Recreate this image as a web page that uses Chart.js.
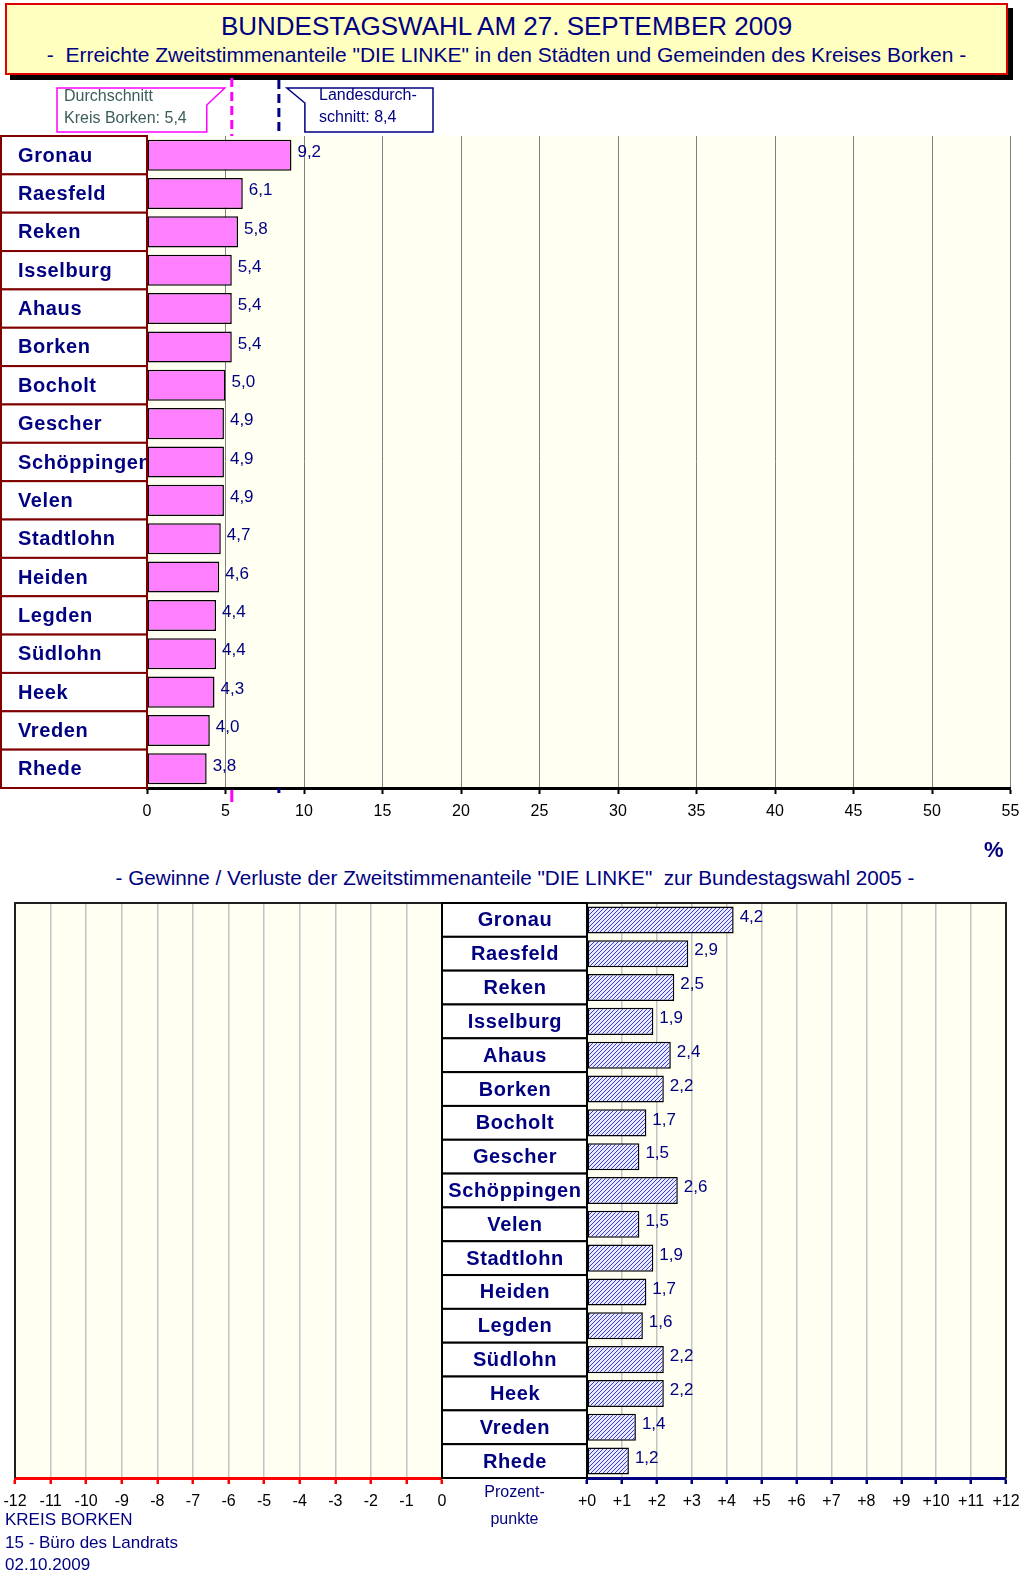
<!DOCTYPE html>
<html>
<head>
<meta charset="utf-8">
<script src="https://cdn.jsdelivr.net/npm/chart.js@4.4.0/dist/chart.umd.min.js"></script>
<style>
  body { margin: 0; background: #fff; width: 1024px; height: 1580px; position: relative; overflow: hidden;
         font-family: Arial, "Liberation Sans", sans-serif; }
  canvas { position: absolute; left: 0; }
  .txt { position: absolute; white-space: nowrap; color: #000080; }
  #titelbox { position: absolute; left: 5px; top: 3px; width: 1003px; height: 72px; box-sizing: border-box;
              background: #ffffc0; border: 2px solid #e00000; box-shadow: 5px 5px 0 #000; }
</style>
</head>
<body>
<div id="titelbox"></div>
<div class="txt" style="left:5px;width:1003px;top:10px;font-size:26px;line-height:32px;text-align:center;">BUNDESTAGSWAHL AM 27. SEPTEMBER 2009</div>
<div class="txt" style="left:5px;width:1003px;top:42px;font-size:21px;line-height:26px;text-align:center;">-&nbsp; Erreichte Zweitstimmenanteile "DIE LINKE" in den Städten und Gemeinden des Kreises Borken -</div>

<canvas id="oben" width="1024" height="860" style="top:0"></canvas>

<div class="txt" style="left:984px;top:837px;font-size:22px;font-weight:bold;line-height:26px;">%</div>
<div class="txt" style="left:15px;width:1000px;top:865px;font-size:20.7px;line-height:26px;text-align:center;">- Gewinne / Verluste der Zweitstimmenanteile "DIE LINKE"&nbsp; zur Bundestagswahl 2005 -</div>

<canvas id="links" width="1024" height="700" style="top:880px"></canvas>
<canvas id="rechts" width="1024" height="700" style="top:880px"></canvas>

<div class="txt" style="left:442px;width:145px;top:1481px;font-size:16px;line-height:22px;text-align:center;">Prozent-</div>
<div class="txt" style="left:442px;width:145px;top:1508px;font-size:16px;line-height:22px;text-align:center;">punkte</div>

<div class="txt" style="left:5px;top:1509px;font-size:17px;line-height:22px;">KREIS BORKEN</div>
<div class="txt" style="left:5px;top:1532px;font-size:17px;line-height:22px;">15 - Büro des Landrats</div>
<div class="txt" style="left:5px;top:1554px;font-size:17px;line-height:22px;">02.10.2009</div>

<script>
// Daten
const gemeinden = ["Gronau", "Raesfeld", "Reken", "Isselburg", "Ahaus", "Borken", "Bocholt", "Gescher",
  "Schöppingen", "Velen", "Stadtlohn", "Heiden", "Legden", "Südlohn", "Heek", "Vreden", "Rhede"];
const anteil2009 = [9.2, 6.1, 5.8, 5.4, 5.4, 5.4, 5.0, 4.9, 4.9, 4.9, 4.7, 4.6, 4.4, 4.4, 4.3, 4.0, 3.8];
const gewinn2005 = [4.2, 2.9, 2.5, 1.9, 2.4, 2.2, 1.7, 1.5, 2.6, 1.5, 1.9, 1.7, 1.6, 2.2, 2.2, 1.4, 1.2];
const schnittKreis = 5.4;
const schnittLand = 8.4;
const achseProzent = [0, 55, 5];     // min, max, schritt
const achseVerlust = [-12, 0, 1];
const achseGewinn = [0, 12, 1];

const schrift = "Arial, 'Liberation Sans', sans-serif";
const navy = "#000080";

function komma(v) {
  return v.toFixed(1).replace(".", ",");
}

function flaecheFuellen(chart, farbe) {
  const a = chart.chartArea, ctx = chart.ctx;
  ctx.save();
  ctx.fillStyle = farbe;
  ctx.fillRect(a.left, a.top, a.right - a.left, a.bottom - a.top);
  ctx.restore();
}

// Achse soll genau die Layout-Abstaende nutzen
function achseFest(s) {
  s.height = 40;
  s.paddingLeft = 0;
  s.paddingRight = 0;
}

// Schraffur fuer die Gewinne
function schraffur() {
  const c = document.createElement("canvas");
  c.width = 4; c.height = 4;
  const g = c.getContext("2d");
  g.fillStyle = "#e8eaff";
  g.fillRect(0, 0, 4, 4);
  g.strokeStyle = "#3a3ae0";
  g.lineWidth = 1;
  g.beginPath();
  g.moveTo(-1, 5); g.lineTo(5, -1);
  g.moveTo(-1, 1); g.lineTo(1, -1);
  g.moveTo(3, 5); g.lineTo(5, 3);
  g.stroke();
  return g.createPattern(c, "repeat");
}

const obenPlugin = {
  id: "oben",
  beforeDraw(chart) {
    flaecheFuellen(chart, "#fffff2");
  },
  afterDraw(chart) {
    const ctx = chart.ctx, a = chart.chartArea;
    const xs = chart.scales.x, ys = chart.scales.y;
    const h = (a.bottom - a.top) / gemeinden.length;
    ctx.save();

    // Gemeinde-Kaesten
    gemeinden.forEach((name, i) => {
      const y = ys.getPixelForValue(i);
      ctx.fillStyle = "#fff";
      ctx.fillRect(1, y - h / 2, a.left - 1, h);
      ctx.strokeStyle = "#800000";
      ctx.lineWidth = 2;
      ctx.strokeRect(1, y - h / 2, a.left - 1, h);
      ctx.save();
      ctx.beginPath();
      ctx.rect(1, y - h / 2, a.left - 2, h);
      ctx.clip();
      ctx.fillStyle = navy;
      ctx.font = "bold 20px " + schrift;
      ctx.letterSpacing = "0.6px";
      ctx.textBaseline = "middle";
      ctx.fillText(name, 18, y + 1);
      ctx.restore();
    });

    // Werte
    ctx.font = "17px " + schrift;
    ctx.fillStyle = navy;
    ctx.textBaseline = "middle";
    chart.getDatasetMeta(0).data.forEach((bar, i) => {
      ctx.fillText(komma(anteil2009[i]), bar.x + 6, bar.y - 3);
    });

    // Durchschnittslinien
    const xk = xs.getPixelForValue(schnittKreis);
    const xl = xs.getPixelForValue(schnittLand);
    ctx.lineWidth = 3;
    ctx.setLineDash([9, 5]);
    ctx.strokeStyle = "#ff00ff";
    ctx.beginPath(); ctx.moveTo(xk, 78); ctx.lineTo(xk, a.top); ctx.stroke();
    ctx.strokeStyle = navy;
    ctx.beginPath(); ctx.moveTo(xl, 80); ctx.lineTo(xl, a.top); ctx.stroke();
    ctx.setLineDash([]);
    ctx.strokeStyle = "#ff00ff";
    ctx.beginPath(); ctx.moveTo(xk, a.bottom + 2); ctx.lineTo(xk, a.bottom + 14); ctx.stroke();
    ctx.strokeStyle = navy;
    ctx.beginPath(); ctx.moveTo(xl, a.bottom); ctx.lineTo(xl, a.bottom + 5); ctx.stroke();

    // Legenden-Kaesten
    ctx.lineWidth = 1.5;
    ctx.fillStyle = "#fff";
    ctx.strokeStyle = "#ff00ff";
    ctx.beginPath();
    ctx.moveTo(57, 88); ctx.lineTo(xk - 7, 88); ctx.lineTo(xk - 25, 105);
    ctx.lineTo(xk - 25, 132); ctx.lineTo(57, 132); ctx.closePath();
    ctx.fill(); ctx.stroke();
    ctx.strokeStyle = navy;
    ctx.beginPath();
    ctx.moveTo(xl + 8, 88); ctx.lineTo(433, 88); ctx.lineTo(433, 132);
    ctx.lineTo(xl + 26, 132); ctx.lineTo(xl + 26, 103); ctx.closePath();
    ctx.fill(); ctx.stroke();

    ctx.font = "16px " + schrift;
    ctx.fillStyle = "#3d5c5c";
    ctx.fillText("Durchschnitt", 64, 97);
    ctx.fillText("Kreis Borken: " + komma(schnittKreis), 64, 119);
    ctx.fillStyle = navy;
    ctx.fillText("Landesdurch-", 319, 96);
    ctx.fillText("schnitt: " + komma(schnittLand), 319, 118);
    ctx.restore();
  }
};

new Chart(document.getElementById("oben"), {
  type: "bar",
  data: {
    labels: gemeinden,
    datasets: [{
      data: anteil2009,
      backgroundColor: "#ff80ff",
      borderColor: "#000",
      borderWidth: 1.5,
      borderSkipped: false,
      barPercentage: 0.81,
      categoryPercentage: 1
    }]
  },
  options: {
    indexAxis: "y",
    responsive: false,
    animation: false,
    devicePixelRatio: 1,
    layout: { padding: { left: 147, right: 13.5, top: 136, bottom: 32 } },
    plugins: { legend: { display: false }, tooltip: { enabled: false } },
    scales: {
      x: {
        min: achseProzent[0], max: achseProzent[1],
        ticks: { stepSize: achseProzent[2], color: "#000", font: { family: schrift, size: 16 }, padding: 8, maxRotation: 0, autoSkip: false },
        grid: { color: "#808080", lineWidth: 1, tickColor: "#000", tickLength: 6, tickWidth: 2 },
        border: { color: "#000", width: 3 },
        afterFit: achseFest
      },
      y: { display: false }
    }
  },
  plugins: [obenPlugin]
});

// untere Grafik, linke Haelfte (Verluste)
const linksPlugin = {
  id: "links",
  beforeDraw(chart) {
    flaecheFuellen(chart, "#fffff2");
  },
  afterDraw(chart) {
    const ctx = chart.ctx, a = chart.chartArea;
    ctx.save();
    ctx.strokeStyle = "#202020";
    ctx.lineWidth = 2;
    ctx.beginPath();
    ctx.moveTo(a.left, a.bottom); ctx.lineTo(a.left, a.top); ctx.lineTo(a.right, a.top);
    ctx.stroke();
    ctx.restore();
  }
};

new Chart(document.getElementById("links"), {
  type: "bar",
  data: { labels: gemeinden, datasets: [] },
  options: {
    indexAxis: "y",
    responsive: false,
    animation: false,
    devicePixelRatio: 1,
    layout: { padding: { left: 15, right: 582, top: 23, bottom: 62 } },
    plugins: { legend: { display: false }, tooltip: { enabled: false } },
    scales: {
      x: {
        min: achseVerlust[0], max: achseVerlust[1],
        ticks: { stepSize: achseVerlust[2], color: "#000", font: { family: schrift, size: 16 }, padding: 8, maxRotation: 0, autoSkip: false,
                 callback: (v) => String(v) },
        grid: { color: "#c4c4c4", lineWidth: 1.5, tickColor: "#ff0000", tickLength: 6, tickWidth: 2.5 },
        border: { color: "#ff0000", width: 3 },
        afterFit: achseFest
      },
      y: { display: false }
    }
  },
  plugins: [linksPlugin]
});

// untere Grafik, rechte Haelfte (Gewinne)
const rechtsPlugin = {
  id: "rechts",
  beforeDraw(chart) {
    flaecheFuellen(chart, "#fffff2");
  },
  afterDraw(chart) {
    const ctx = chart.ctx, a = chart.chartArea, ys = chart.scales.y;
    const h = (a.bottom - a.top) / gemeinden.length;
    const links = a.left - 145;
    ctx.save();
    ctx.strokeStyle = "#202020";
    ctx.lineWidth = 2;
    ctx.beginPath();
    ctx.moveTo(links, a.top); ctx.lineTo(a.right, a.top); ctx.lineTo(a.right, a.bottom);
    ctx.stroke();

    gemeinden.forEach((name, i) => {
      const y = ys.getPixelForValue(i);
      ctx.fillStyle = "#fff";
      ctx.fillRect(links, y - h / 2, 145, h);
      ctx.strokeStyle = "#000";
      ctx.lineWidth = 2;
      ctx.strokeRect(links, y - h / 2, 145, h);
      ctx.fillStyle = navy;
      ctx.font = "bold 20px " + schrift;
      ctx.letterSpacing = "0.6px";
      ctx.textAlign = "center";
      ctx.textBaseline = "middle";
      ctx.fillText(name, links + 73, y + 1);
    });

    ctx.letterSpacing = "0px";
    ctx.textAlign = "left";
    ctx.font = "17px " + schrift;
    ctx.fillStyle = navy;
    chart.getDatasetMeta(0).data.forEach((bar, i) => {
      ctx.fillText(komma(gewinn2005[i]), bar.x + 6, bar.y - 3);
    });
    ctx.restore();
  }
};

new Chart(document.getElementById("rechts"), {
  type: "bar",
  data: {
    labels: gemeinden,
    datasets: [{
      data: gewinn2005,
      backgroundColor: schraffur(),
      borderColor: "#000",
      borderWidth: 1.5,
      borderSkipped: false,
      barPercentage: 0.8,
      categoryPercentage: 1
    }]
  },
  options: {
    indexAxis: "y",
    responsive: false,
    animation: false,
    devicePixelRatio: 1,
    layout: { padding: { left: 587, right: 18, top: 23, bottom: 62 } },
    plugins: { legend: { display: false }, tooltip: { enabled: false } },
    scales: {
      x: {
        min: achseGewinn[0], max: achseGewinn[1],
        ticks: { stepSize: achseGewinn[2], color: "#000", font: { family: schrift, size: 16 }, padding: 8, maxRotation: 0, autoSkip: false,
                 callback: (v) => "+" + v },
        grid: { color: "#c4c4c4", lineWidth: 1.5, tickColor: navy, tickLength: 6, tickWidth: 2.5 },
        border: { color: navy, width: 3 },
        afterFit: achseFest
      },
      y: { display: false }
    }
  },
  plugins: [rechtsPlugin]
});
</script>
</body>
</html>
